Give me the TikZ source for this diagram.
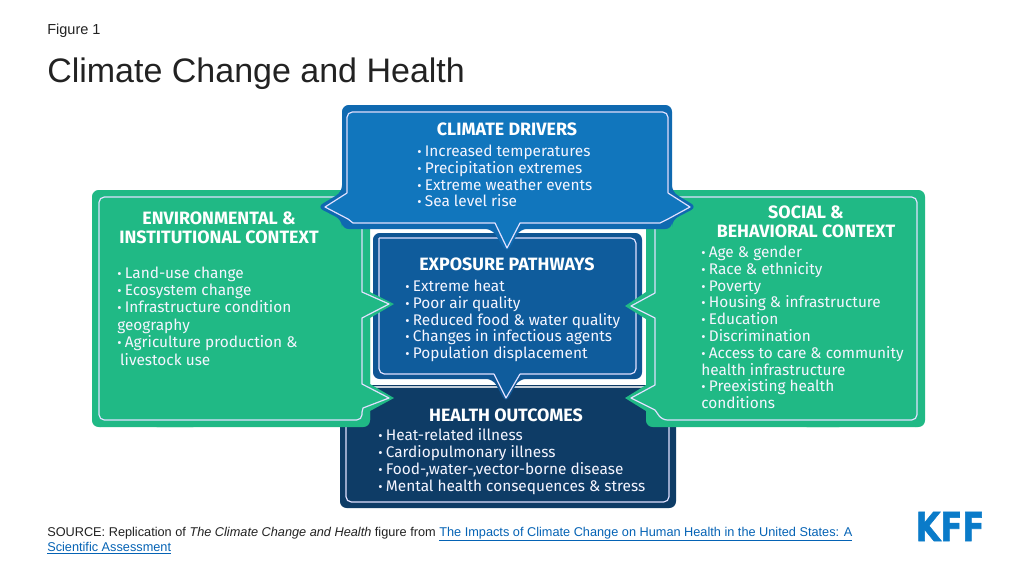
\documentclass[tikz,border=0pt]{standalone}
\usepackage{fontspec}
\setmainfont{Liberation Sans}
\newfontfamily\barf{Fira Sans}
\newfontfamily\kfffont[BoldFeatures={FakeBold=1.5}]{DejaVu Sans}
\definecolor{green1}{HTML}{20B985}
\definecolor{blueA}{HTML}{1176BD}
\definecolor{blueAo}{HTML}{0F69B0}
\definecolor{blueB}{HTML}{0F5C9C}
\definecolor{blueBo}{HTML}{0F5593}
\definecolor{navy}{HTML}{0E3C66}
\definecolor{ink}{HTML}{222222}
\definecolor{linkc}{HTML}{0563B5}
\definecolor{kff}{HTML}{0A7BC9}
\newcommand{\blt}{{\scalebox{.85}{•}\hspace{0.22em}}}
\tikzset{
  x=0.75pt,y=-0.75pt,
  outer/.style={rounded corners=5pt,line join=round},
  inline/.style={draw=white!88!blue,line width=0.9pt,rounded corners=4pt,line join=round},
  sharpline/.style={draw=white!88!blue,line width=0.9pt,line join=round},
  head/.style={text=white,inner sep=0pt,align=center,font=\barf\bfseries\fontsize{13.4}{14.2}\selectfont},
  items/.style={text=white!96!blue,inner sep=0pt,align=left,anchor=west,font=\barf\fontsize{11.55}{12.6}\selectfont},
  itemsL/.style={items,font=\barf\fontsize{11.55}{13.1}\selectfont},
}
\begin{document}
\begin{tikzpicture}
\useasboundingbox (0,0) rectangle (1024,576);
\fill[white] (0,0) rectangle (1024,576);
\node[anchor=west,inner sep=0pt,text=ink,font=\fontsize{10.9}{12}\selectfont] (fig) at (47,31) {Figure 1};
\node[anchor=west,inner sep=0pt,text=ink,font=\fontsize{25.5}{30}\selectfont] (ttl) at (47,73.5) {Climate Change and Health};

% health outcomes
\fill[navy,rounded corners=5pt] (340,380) rectangle (676,508);
\draw[inline] (346,388) -- (346,502) -- (669,502) -- (669,388);
% white panel
\fill[white] (370,228) rectangle (646,385);
\draw[white!75!navy,line width=1pt] (370,387) -- (646,387);
% exposure
\fill[blueBo,outer] (373,233) -- (642,233) -- (642,379) -- (519,379) -- (506,403) -- (493,379) -- (373,379) -- cycle;
\fill[blueB,rounded corners=4pt] (379,238) -- (636,238) -- (636,374) -- (520,374) -- (506,398) -- (494,374) -- (379,374) -- cycle;
\draw[inline] (379,238) -- (636,238) -- (636,374) -- (520,374);
\draw[sharpline] (520,374) -- (506,398) -- (494,374);
\draw[inline] (494,374) -- (379,374) -- (379,238);
% green left
\fill[green1] (100,190) -- (370,190) -- (370,292) -- (394,304) -- (370,318) -- (370,384) -- (394,398) -- (370,411) -- (370,420) -- (100,427) -- cycle;
\fill[green1,rounded corners=5pt] (92,190) rectangle (200,427);
\fill[green1,rounded corners=5pt] (150,300) rectangle (370,427);
\draw[inline] (362,197) -- (99,197) -- (99,420) -- (362,420) -- (362,412);
\draw[sharpline] (362,412) -- (363,408) -- (389,398) -- (362,384) -- (362,318) -- (389,304) -- (362,292) -- (362,225);
% green right
\fill[green1] (916,190) -- (646,190) -- (646,292) -- (625,306) -- (646,319) -- (646,385) -- (625,398) -- (646,411) -- (646,420) -- (916,427) -- cycle;
\fill[green1,rounded corners=5pt] (925,190) rectangle (800,427);
\fill[green1,rounded corners=5pt] (846,300) rectangle (646,427);
\draw[inline] (655,197) -- (917,197) -- (917,420) -- (662,420) -- (655,410);
\draw[sharpline] (655,410) -- (631,398) -- (655,385) -- (655,318) -- (631,306) -- (655,293) -- (655,225);
% climate drivers
\fill[blueAo,outer] (342,105) -- (672,105) -- (672,192) -- (697,207) -- (672,220) -- (672,229) -- (520,229) -- (507,253) -- (492,229) -- (342,229) -- (342,220) -- (317,207) -- (342,192) -- cycle;
\fill[blueA] (348,113) -- (667,113) -- (667,193) -- (690,207) -- (667,219) -- (660,223) -- (520,223) -- (507,248) -- (495,223) -- (353,223) -- (348,219) -- (325,207) -- (348,193) -- cycle;
\draw[inline] (347,193) -- (347,112) -- (668,112) -- (668,193);
\draw[sharpline] (668,193) -- (690,207) -- (668,219) -- (660,223) -- (520,223) -- (507,248) -- (495,223) -- (353,223) -- (348,219) -- (325,207) -- (347,193);

% texts
\node[head] (h1) at (507,129) {CLIMATE DRIVERS};
\node[items] (l1) at (417,176) {\blt Increased temperatures\\\blt Precipitation extremes\\\blt Extreme weather events\\\blt Sea level rise};
\node[head] (h2) at (507,264) {EXPOSURE PATHWAYS};
\node[items] (l2) at (405,321) {\blt Extreme heat\\\blt Poor air quality\\\blt Reduced food \& water quality\\\blt Changes in infectious agents\\\blt Population displacement};
\node[head] (h3) at (506,415.5) {HEALTH OUTCOMES};
\node[items] (l3) at (378,461.5) {\blt Heat-related illness\\\blt Cardiopulmonary illness\\\blt Food-,water-,vector-borne disease\\\blt Mental health consequences \& stress};
\node[head] (h4) at (219,227.5) {ENVIRONMENTAL \&\\INSTITUTIONAL CONTEXT};
\node[itemsL] (l4) at (117,316) {\blt Land-use change\\\blt Ecosystem change\\\blt Infrastructure condition\\geography\\\blt Agriculture production \&\\\hspace*{2.2pt}livestock use};
\node[head] (h5) at (806,221.5) {SOCIAL \&\\BEHAVIORAL CONTEXT};
\node[items] (l5) at (701,327.5) {\blt Age \& gender\\\blt Race \& ethnicity\\\blt Poverty\\\blt Housing \& infrastructure\\\blt Education\\\blt Discrimination\\\blt Access to care \& community\\health infrastructure\\\blt Preexisting health\\conditions};

% footer
\node[anchor=north west,inner sep=0pt,text=ink,align=left,font=\fontsize{9.55}{11.4}\selectfont] (src) at (47,526.5) {SOURCE: Replication of \textit{The Climate Change and Health} figure from \textcolor{linkc}{\underline{The Impacts of Climate Change on Human Health in the United States: A}}\\\textcolor{linkc}{\underline{Scientific Assessment}}};
\node[anchor=center,inner sep=0pt,text=kff,font=\kfffont\bfseries] (logo) at (950,526.5) {\resizebox{51.5pt}{21.8pt}{KFF}};
\end{tikzpicture}
\end{document}
